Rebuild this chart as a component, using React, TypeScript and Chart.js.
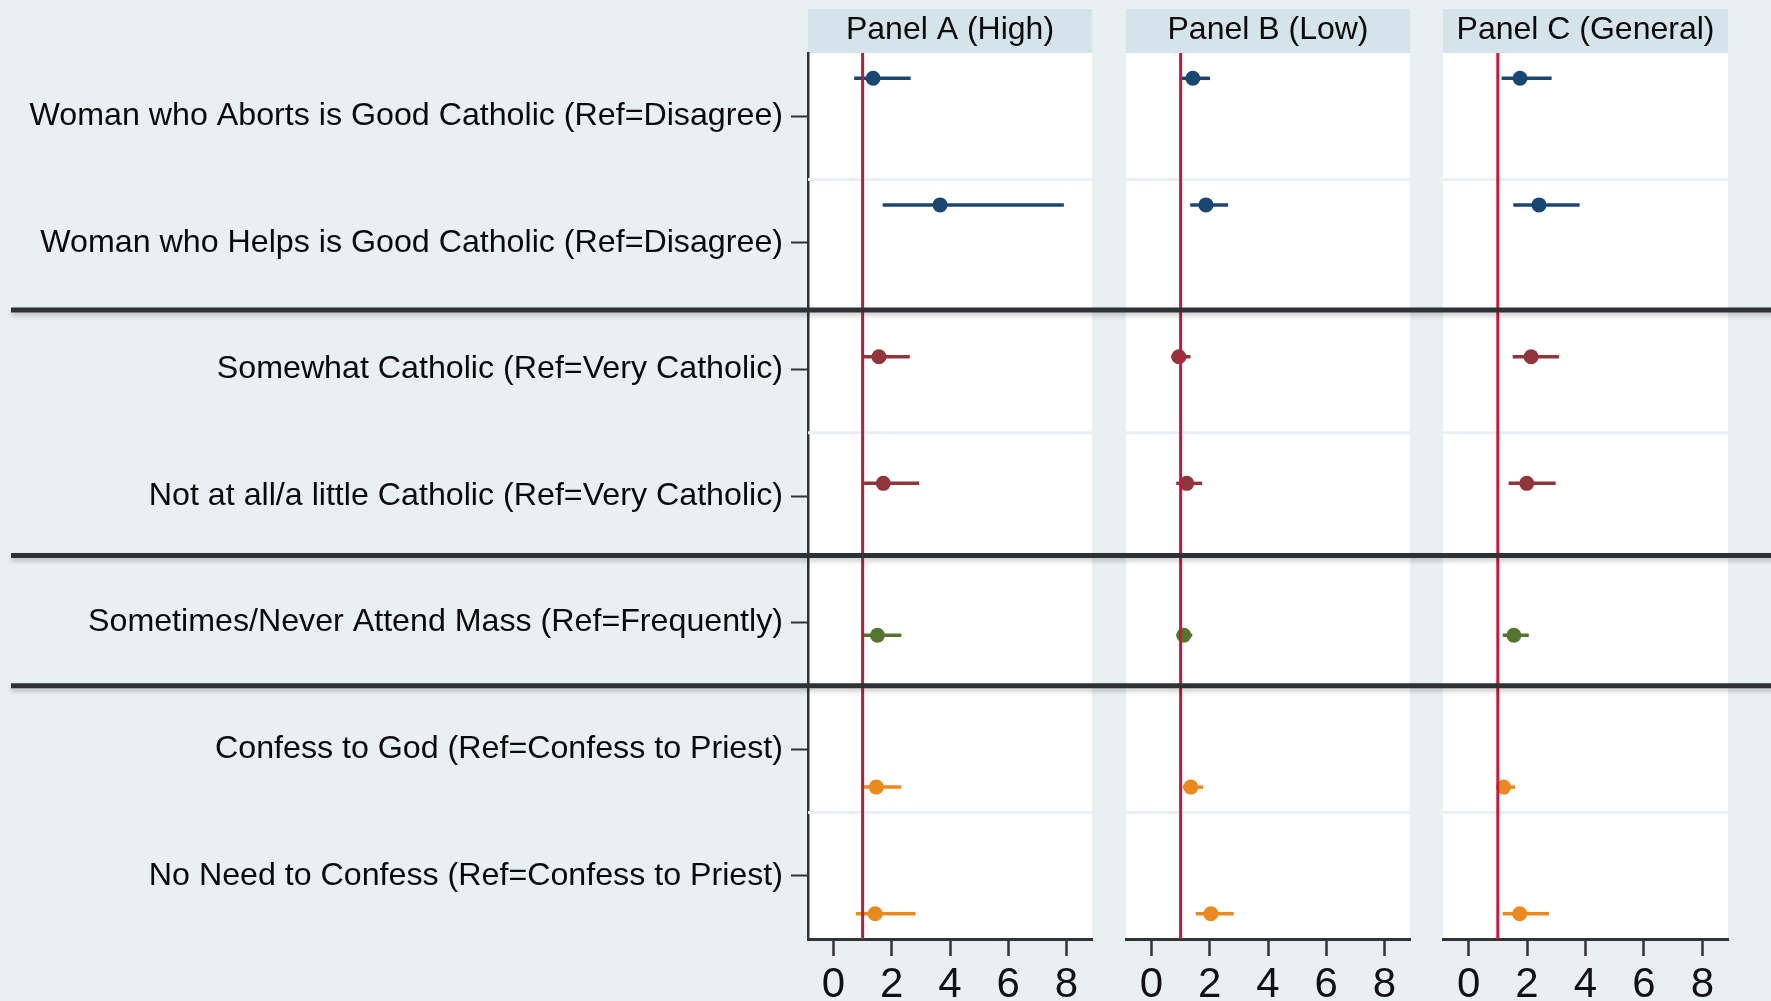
import React, { useEffect, useRef } from "react";
import { Chart, registerables } from "chart.js";

Chart.register(...registerables);

// ---------------- data ----------------
const rowLabels = [
  "Woman who Aborts is Good Catholic (Ref=Disagree)",
  "Woman who Helps is Good Catholic (Ref=Disagree)",
  "Somewhat Catholic (Ref=Very Catholic)",
  "Not at all/a little Catholic (Ref=Very Catholic)",
  "Sometimes/Never Attend Mass (Ref=Frequently)",
  "Confess to God (Ref=Confess to Priest)",
  "No Need to Confess (Ref=Confess to Priest)",
];
const rowValues = [0, 1, 2, 3, 4, 5, 6];
const panelTitles = ["Panel A (High)", "Panel B (Low)", "Panel C (General)"];
const xTickValues = [0, 2, 4, 6, 8];
const referenceValue = 1;
const groupSeparators = [1.53, 3.47, 4.5];
const withinGroupLines = [0.5, 2.5, 5.5];

const seriesNames = ["Good Catholic views", "Catholic identity", "Mass attendance", "Confession"];
const seriesRows = [[0, 1], [2, 3], [4], [5, 6]];
const seriesOffsets = [-0.3, -0.1, 0.1, 0.3];
const seriesColors = ["#1a476f", "#90353b", "#55752f", "#ea8a1e"];

const panelACoef = [1.36, 3.66, 1.56, 1.71, 1.51, 1.47, 1.43];
const panelALow = [0.71, 1.69, 0.97, 1.05, 1.03, 0.94, 0.77];
const panelAHigh = [2.65, 7.91, 2.62, 2.94, 2.33, 2.33, 2.82];

const panelBCoef = [1.42, 1.87, 0.94, 1.21, 1.11, 1.35, 2.04];
const panelBLow = [1.05, 1.33, 0.68, 0.85, 0.86, 1.07, 1.52];
const panelBHigh = [2.01, 2.63, 1.34, 1.74, 1.4, 1.77, 2.82];

const panelCCoef = [1.76, 2.41, 2.14, 1.99, 1.55, 1.2, 1.75];
const panelCLow = [1.13, 1.53, 1.51, 1.37, 1.17, 0.95, 1.17];
const panelCHigh = [2.84, 3.8, 3.09, 2.98, 2.06, 1.59, 2.75];

const panelCoefs = [panelACoef, panelBCoef, panelCCoef];
const panelLows = [panelALow, panelBLow, panelCLow];
const panelHighs = [panelAHigh, panelBHigh, panelCHigh];

// ---------------- style ----------------
const FONT = "'Liberation Sans', Arial, Helvetica, sans-serif";
const BG = "#e8f0f3";
const HEADER = "#d5e3ea";
const REF_COLOR = "#c4183f";
const AXIS = "#333333";

const forestPlugin = {
  id: "forest",
  beforeDraw(chart: any) {
    const o = chart.options.plugins.forest;
    const { ctx, chartArea } = chart;
    ctx.save();
    ctx.fillStyle = "#ffffff";
    ctx.fillRect(chartArea.left, chartArea.top, chartArea.right - chartArea.left, chartArea.bottom - chartArea.top);
    ctx.fillStyle = HEADER;
    ctx.fillRect(chartArea.left, o.headerTop, chartArea.right - chartArea.left, chartArea.top - o.headerTop);
    ctx.restore();
  },
  beforeDatasetsDraw(chart: any) {
    const { ctx, chartArea } = chart;
    const ys = chart.scales.y;
    const xs = chart.scales.x;
    ctx.save();
    // faint within-group lines
    ctx.strokeStyle = BG;
    ctx.lineWidth = 3;
    withinGroupLines.forEach((v) => {
      const py = ys.getPixelForValue(v);
      ctx.beginPath();
      ctx.moveTo(chartArea.left, py);
      ctx.lineTo(chartArea.right, py);
      ctx.stroke();
    });
    // confidence intervals
    ctx.lineWidth = 3.5;
    ctx.lineCap = "butt";
    chart.data.datasets.forEach((ds: any) => {
      ctx.strokeStyle = ds.backgroundColor;
      ds.data.forEach((p: any) => {
        const py = ys.getPixelForValue(p.y);
        ctx.beginPath();
        ctx.moveTo(xs.getPixelForValue(p.lo), py);
        ctx.lineTo(xs.getPixelForValue(p.hi), py);
        ctx.stroke();
      });
    });
    ctx.restore();
  },
  afterDatasetsDraw(chart: any) {
    const { ctx, chartArea } = chart;
    const px = chart.scales.x.getPixelForValue(referenceValue);
    ctx.save();
    ctx.strokeStyle = REF_COLOR;
    ctx.lineWidth = 3;
    ctx.beginPath();
    ctx.moveTo(px, chartArea.top);
    ctx.lineTo(px, chartArea.bottom);
    ctx.stroke();
    ctx.restore();
  },
  afterDraw(chart: any) {
    const o = chart.options.plugins.forest;
    const { ctx } = chart;
    const ys = chart.scales.y;
    ctx.save();
    ctx.strokeStyle = "#2e3234";
    ctx.lineWidth = 5;
    ctx.shadowColor = "rgba(0,0,0,0.22)";
    ctx.shadowBlur = 5;
    ctx.shadowOffsetY = 3;
    groupSeparators.forEach((v) => {
      const py = ys.getPixelForValue(v);
      ctx.beginPath();
      ctx.moveTo(o.lineStart, py);
      ctx.lineTo(chart.width + 30, py);
      ctx.stroke();
    });
    ctx.restore();
  },
};

function buildDatasets(panel: number) {
  return seriesNames.map((name, s) => ({
    label: name,
    data: seriesRows[s].map((r) => ({
      x: panelCoefs[panel][r],
      y: r + seriesOffsets[s],
      lo: panelLows[panel][r],
      hi: panelHighs[panel][r],
    })),
    backgroundColor: seriesColors[s],
    borderColor: seriesColors[s],
    pointRadius: 7.5,
    pointHoverRadius: 7.5,
    borderWidth: 0,
  }));
}

const panelBoxes = [
  { left: 0, width: 1110, padLeft: 0, padRight: 18, showY: true, lineStart: 11 },
  { left: 1110, width: 316, padLeft: 16, padRight: 16, showY: false, lineStart: -30 },
  { left: 1426, width: 345, padLeft: 17, padRight: 43, showY: false, lineStart: -30 },
];

function Panel({ index }: { index: number }) {
  const ref = useRef<HTMLCanvasElement | null>(null);
  const box = panelBoxes[index];
  useEffect(() => {
    if (!ref.current) return;
    const chart = new Chart(ref.current, {
      type: "scatter",
      data: { datasets: buildDatasets(index) as any },
      options: {
        animation: false,
        responsive: false,
        maintainAspectRatio: false,
        layout: { padding: { left: box.padLeft, right: box.padRight, top: 0, bottom: 0 } },
        scales: {
          x: {
            type: "linear",
            position: "bottom",
            min: -0.875,
            max: 8.875,
            afterBuildTicks: (s: any) => {
              s.ticks = xTickValues.map((v) => ({ value: v }));
            },
            afterFit: (s: any) => {
              s.height = 62;
            },
            ticks: {
              autoSkip: false,
              maxRotation: 0,
              padding: 4,
              color: "#111111",
              font: { family: FONT, size: 42 },
            },
            grid: {
              drawOnChartArea: false,
              drawTicks: true,
              tickLength: 17,
              tickWidth: 2.5,
              tickColor: AXIS,
            },
            border: { display: true, color: AXIS, width: 3 },
          },
          y: {
            type: "linear",
            position: "left",
            reverse: true,
            min: -0.5,
            max: 6.5,
            display: box.showY,
            afterBuildTicks: (s: any) => {
              s.ticks = rowValues.map((v) => ({ value: v }));
            },
            afterFit: (s: any) => {
              if (box.showY) s.width = 808;
            },
            ticks: {
              autoSkip: false,
              padding: 8,
              color: "#0a0a0a",
              font: { family: FONT, size: 32.2 },
              callback: (v: any) => rowLabels[Math.round(Number(v))] ?? "",
            },
            grid: {
              drawOnChartArea: false,
              drawTicks: true,
              tickLength: 17,
              tickWidth: 2,
              tickColor: AXIS,
            },
            border: { display: true, color: AXIS, width: 2.5 },
          },
        },
        plugins: {
          legend: { display: false },
          tooltip: { enabled: false },
          title: {
            display: true,
            text: panelTitles[index],
            fullSize: false,
            color: "#0a0a0a",
            font: { family: FONT, size: 32, weight: "normal" },
            padding: { top: 10.8, bottom: 3.8 },
          },
          forest: { headerTop: 9, lineStart: box.lineStart },
        } as any,
      },
      plugins: [forestPlugin],
    });
    return () => chart.destroy();
  }, [index]);
  return (
    <canvas
      ref={ref}
      width={box.width}
      height={1001}
      style={{ position: "absolute", left: box.left, top: 0, width: box.width, height: 1001 }}
    />
  );
}

export default function App() {
  return (
    <div
      style={{
        position: "fixed",
        left: 0,
        top: 0,
        width: 1771,
        height: 1001,
        background: BG,
        overflow: "hidden",
      }}
    >
      {panelBoxes.map((_, i) => (
        <Panel key={i} index={i} />
      ))}
    </div>
  );
}
